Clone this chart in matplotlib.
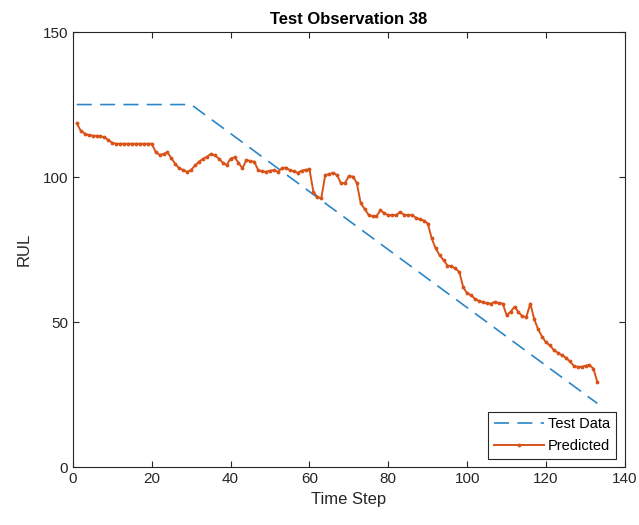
import numpy as np
import matplotlib
matplotlib.use("Agg")
import matplotlib.pyplot as plt

plt.rcParams['font.family'] = ['Liberation Sans', 'DejaVu Sans']

# true RUL (piecewise linear, capped at 125)
test_t = [1, 30, 133]
test_rul = [125, 125, 22]

# predicted RUL per time step
pred = [
    118.5, 116, 115, 114.5, 114.3, 114.2, 114, 113.8, 112.8, 111.8,
    111.5, 111.5, 111.5, 111.5, 111.5, 111.5, 111.5, 111.5, 111.5, 111.5,
    108.7, 107.6, 108, 108.5, 106.5, 104.5, 103, 102.4, 101.8, 102.5,
    104, 105.3, 106.3, 107, 108, 107.5, 106.4, 105, 104.1, 106.4,
    106.8, 105, 103, 105.9, 105.5, 105.3, 102.4, 102, 101.8, 102.2,
    102.4, 101.8, 103, 103.3, 102.4, 102, 101.5, 102.2, 102.5, 102.7,
    94.9, 93.2, 92.7, 100.7, 101, 101.5, 100.7, 97.8, 98, 100.3,
    100.2, 98, 91, 89, 87, 86.5, 86.5, 88.6, 87.5, 86.9,
    86.9, 86.9, 88, 87, 86.9, 86.9, 86, 85.5, 85, 84,
    78.9, 75.4, 73.1, 71.4, 69.5, 69.3, 68.5, 67.3, 62, 59.9,
    59.3, 58, 57.3, 57, 56.5, 56.4, 57, 56.6, 56.4, 52.4,
    53.6, 55.3, 53.5, 52, 51.8, 56.4, 51, 47.5, 45, 43,
    42, 40.3, 39.5, 38.6, 37.8, 36.5, 35, 34.6, 34.6, 35,
    35.2, 34, 29.4,
]
t = np.arange(1, len(pred) + 1)

fig = plt.figure(figsize=(6.39, 5.25), dpi=100)
ax = fig.add_axes([0.114, 0.110, 0.864, 0.829])

ax.plot(test_t, test_rul, color='#2a86c8', lw=1.2, dashes=(9, 5), label='Test Data')
ax.plot(t, pred, '.-', color='#D95319', lw=1.4, markersize=3.5, label='Predicted')

ax.set_xlim(0, 140)
ax.set_ylim(0, 150)
ax.set_xticks(range(0, 141, 20))
ax.set_yticks(range(0, 151, 50))
ax.tick_params(direction='in', top=True, right=True, labelsize=11,
               colors='#262626', length=4)
for s in ax.spines.values():
    s.set_color('#262626')
    s.set_linewidth(0.8)

ax.set_xlabel('Time Step', fontsize=12, color='#262626')
ax.set_ylabel('RUL', fontsize=12, color='#262626', labelpad=8)
ax.set_title('Test Observation 38', fontsize=12, fontweight='bold', color='black')

leg = ax.legend(loc='lower right', fontsize=10.5, fancybox=False, framealpha=1,
                edgecolor='#262626', handlelength=3.4, handletextpad=0.3,
                borderaxespad=0.6)
leg.get_frame().set_linewidth(0.8)

fig.savefig('out.png', dpi=100)
